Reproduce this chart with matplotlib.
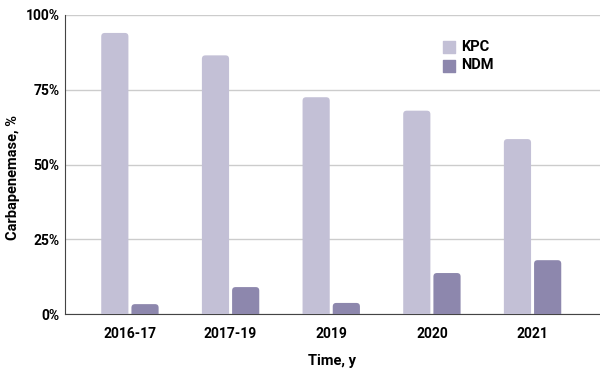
import matplotlib
matplotlib.use("Agg")
import matplotlib.pyplot as plt
from matplotlib.patches import FancyBboxPatch
import numpy as np

categories = ["2016-17", "2017-19", "2019", "2020", "2021"]
kpc = [94, 86.5, 72.5, 68, 58.5]
ndm = [3.3, 9, 3.7, 13.7, 18]
series_names = ["KPC", "NDM"]
colors = ["#c3c0d6", "#8d87ad"]

plt.rcParams['font.family'] = ['Roboto', 'DejaVu Sans']

fig = plt.figure(figsize=(6, 3.77), dpi=100)
ax = fig.add_axes([65/600, (377-314)/377, 535/600, 299/377])

x = np.arange(len(categories))
w = 0.27
gap = 0.015
ax.set_xlim(-0.645, 4.67)
ax.set_ylim(0, 100)

xpp = (4.67 + 0.645) / 535
ypp = 100 / 299
aspect = ypp / xpp

for vals, off, col, name in [(kpc, -(w/2 + gap), colors[0], series_names[0]),
                             (ndm, (w/2 + gap), colors[1], series_names[1])]:
    for xi, v in zip(x, vals):
        p = FancyBboxPatch((xi + off - w/2, -3), w, v + 3,
                           boxstyle="round,pad=0,rounding_size=0.035",
                           mutation_aspect=aspect, facecolor=col,
                           edgecolor='none', zorder=3)
        ax.add_patch(p)
    ax.scatter([], [], marker='s', s=70, color=col, label=name)

ax.set_yticks([0, 25, 50, 75, 100])
ax.set_yticklabels(["0%", "25%", "50%", "75%", "100%"], fontweight='bold', fontsize=10)
ax.set_xticks(x)
ax.set_xticklabels(categories, fontweight='bold', fontsize=10)
ax.tick_params(axis='both', length=0, pad=4)
ax.tick_params(axis='x', pad=9)
ax.yaxis.grid(True, color='#cccccc', linewidth=1, zorder=0)
ax.set_axisbelow(True)
for s in ['top', 'right']:
    ax.spines[s].set_visible(False)
ax.spines['left'].set_color('#444444')
ax.spines['bottom'].set_color('#444444')

ax.set_ylabel("Carbapenemase, %", fontweight='bold', fontsize=10.5)
ax.yaxis.set_label_coords(-45/535, 0.455)
ax.set_xlabel("Time, y", fontweight='bold', fontsize=10.5, labelpad=10)

leg = ax.legend(loc='upper left', bbox_to_anchor=(0.68, 0.96), frameon=False,
                prop={'weight': 'bold', 'size': 10.5}, handletextpad=0.3,
                labelspacing=0.3, handlelength=1.0)

fig.savefig("out.png", dpi=100)
